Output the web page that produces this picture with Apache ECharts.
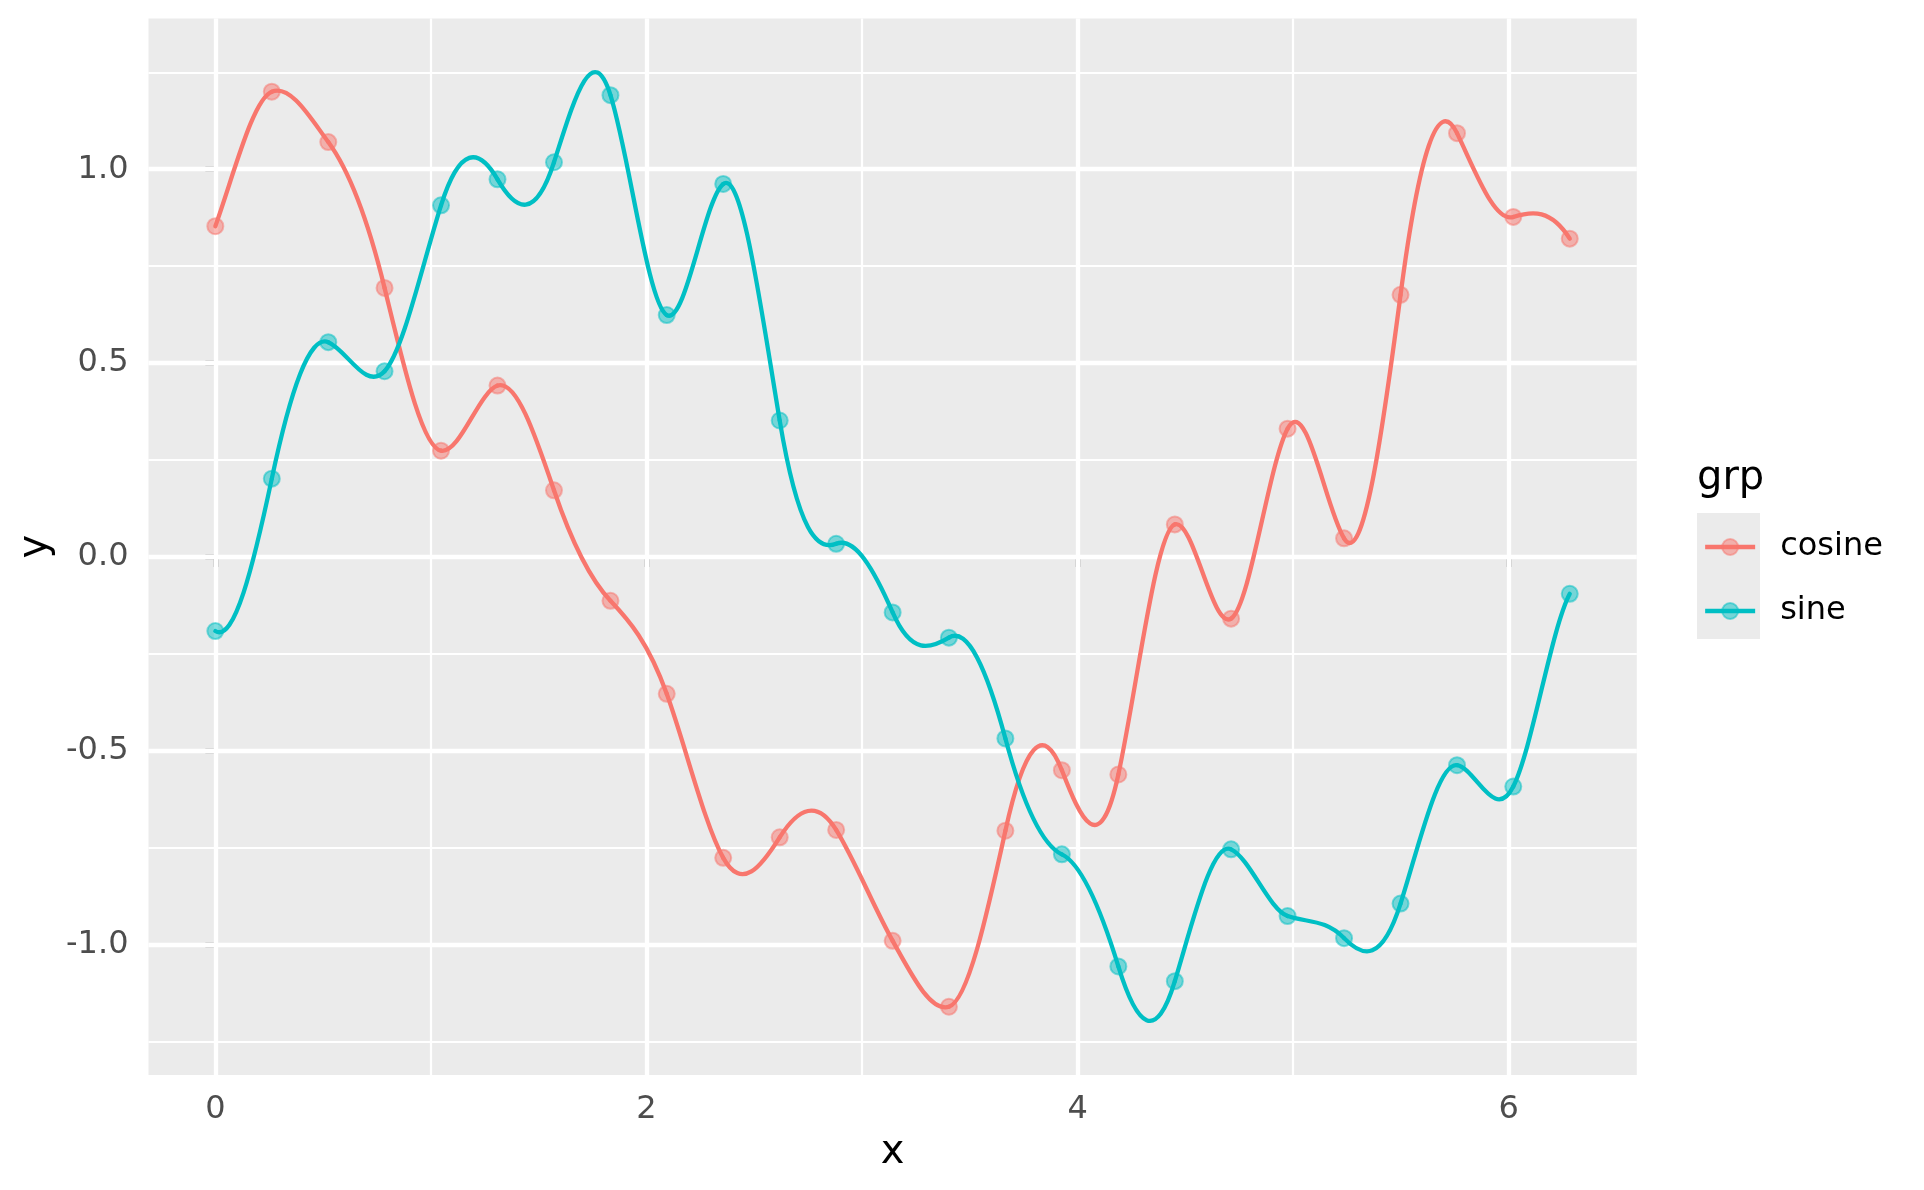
<!DOCTYPE html>
<html>
<head>
<meta charset="utf-8">
<script src="https://cdn.jsdelivr.net/npm/echarts@6/dist/echarts.min.js"></script>
<style>
html, body { margin: 0; padding: 0; background: #ffffff; }
#chart { width: 1924px; height: 1190px; }
</style>
</head>
<body>
<div id="chart"></div>
<script>
// ---- data ----
var xValues = [0, 0.262, 0.524, 0.785, 1.047, 1.309, 1.571, 1.833, 2.094, 2.356, 2.618, 2.880, 3.142,
               3.403, 3.665, 3.927, 4.189, 4.451, 4.712, 4.974, 5.236, 5.498, 5.760, 6.021, 6.283];
var cosineValues = [0.853, 1.200, 1.070, 0.694, 0.274, 0.442, 0.172, -0.113, -0.353, -0.776, -0.723, -0.704, -0.990,
                    -1.160, -0.706, -0.550, -0.561, 0.084, -0.159, 0.331, 0.048, 0.676, 1.093, 0.877, 0.821];
var sineValues = [-0.191, 0.202, 0.554, 0.479, 0.907, 0.974, 1.018, 1.191, 0.624, 0.962, 0.352, 0.034, -0.143,
                  -0.208, -0.468, -0.767, -1.056, -1.094, -0.754, -0.926, -0.983, -0.894, -0.537, -0.592, -0.095];
var groupNames = ['cosine', 'sine'];
var xTicks = [0, 2, 4, 6];
var xMinorBreaks = [1, 3, 5];
var yTicks = [-1, -0.5, 0, 0.5, 1];
var yMinorBreaks = [-1.25, -0.75, -0.25, 0.25, 0.75, 1.25];

// ---- styling ----
var FONT = 'DejaVu Sans';
var COLORS = ['#F8766D', '#00BFC4'];
var LINE_W = 4.3;
var TICK_FONT = 32;
var TITLE_FONT = 40;

function pairs(xs, ys) {
  return xs.map(function (x, i) { return [x, ys[i]]; });
}

// Tangents at the data points of a periodic band-limited (Fourier) curve
// through the points; they only shape the curve drawn between points.
function curveSlopes(xs, ys) {
  var N = ys.length;
  var out = [];
  for (var i = 0; i < N; i++) {
    var s = 0;
    for (var j = 0; j < N; j++) {
      if (j === i) continue;
      var n = i - j;
      var sign = (Math.abs(n) % 2 === 0) ? 1 : -1;
      s += ys[j] * Math.PI * sign / (N * Math.sin(Math.PI * n / N));
    }
    var h = (i < N - 1) ? (xs[i + 1] - xs[i]) : (xs[i] - xs[i - 1]);
    out.push(s / h);
  }
  return out;
}

var gridMarkData = []
  .concat(xTicks.map(function (v) { return { xAxis: v, lineStyle: { width: 4.3 } }; }))
  .concat(xMinorBreaks.map(function (v) { return { xAxis: v, lineStyle: { width: 2.2 } }; }))
  .concat(yTicks.map(function (v) { return { yAxis: v, lineStyle: { width: 4.3 } }; }))
  .concat(yMinorBreaks.map(function (v) { return { yAxis: v, lineStyle: { width: 2.2 } }; }));

var seriesValues = [cosineValues, sineValues];
var series = [];

// legend carriers (line + point icon)
groupNames.forEach(function (name, i) {
  series.push({
    name: name,
    type: 'line',
    data: [],
    symbol: 'circle',
    showSymbol: false,
    lineStyle: { color: COLORS[i], width: LINE_W },
    itemStyle: { color: COLORS[i], borderColor: COLORS[i], borderWidth: 2, opacity: 0.5 },
    silent: true
  });
});

// panel grid lines
series.push({
  name: '_grid',
  type: 'line',
  data: [],
  silent: true,
  markLine: {
    silent: true,
    z: 1,
    symbol: ['none', 'none'],
    label: { show: false },
    emphasis: { disabled: true },
    animation: false,
    lineStyle: { color: '#FFFFFF', type: 'solid', opacity: 1 },
    data: gridMarkData
  }
});

// points
groupNames.forEach(function (name, i) {
  series.push({
    name: name,
    type: 'scatter',
    z: 2,
    data: pairs(xValues, seriesValues[i]),
    symbol: 'circle',
    symbolSize: 16,
    itemStyle: { color: COLORS[i], borderColor: COLORS[i], borderWidth: 2, opacity: 0.5 },
    emphasis: { disabled: true },
    silent: true
  });
});

// smooth curves through the points, drawn via the axes' scales
groupNames.forEach(function (name, i) {
  var ys = seriesValues[i];
  var slopes = curveSlopes(xValues, ys);
  series.push({
    name: name,
    type: 'custom',
    z: 3,
    silent: true,
    data: pairs(xValues, ys),
    encode: { x: 0, y: 1 },
    renderItem: function (params, api) {
      var k = params.dataIndex;
      if (k >= xValues.length - 1) return null;
      var x0 = xValues[k], x1 = xValues[k + 1];
      var h = x1 - x0;
      var p0 = api.coord([x0, ys[k]]);
      var p3 = api.coord([x1, ys[k + 1]]);
      var c1 = api.coord([x0 + h / 3, ys[k] + slopes[k] * h / 3]);
      var c2 = api.coord([x1 - h / 3, ys[k + 1] - slopes[k + 1] * h / 3]);
      return {
        type: 'bezierCurve',
        shape: { x1: p0[0], y1: p0[1], x2: p3[0], y2: p3[1], cpx1: c1[0], cpy1: c1[1], cpx2: c2[0], cpy2: c2[1] },
        style: { stroke: COLORS[i], lineWidth: LINE_W, fill: null, lineCap: 'round', lineJoin: 'round' },
        silent: true
      };
    }
  });
});

var chart = echarts.init(document.getElementById('chart'), null, { renderer: 'canvas' });
chart.setOption({
  animation: false,
  backgroundColor: '#FFFFFF',
  textStyle: { fontFamily: FONT },
  title: {
    text: 'grp',
    left: 1697,
    top: 459,
    padding: 0,
    textStyle: { fontFamily: FONT, fontSize: TITLE_FONT, fontWeight: 'normal', color: '#000000' }
  },
  graphic: [{
    type: 'rect',
    z: 0,
    silent: true,
    shape: { x: 1697, y: 513, width: 63, height: 126 },
    style: { fill: '#EBEBEB' }
  }],
  legend: {
    data: groupNames,
    orient: 'vertical',
    left: 1703,
    top: 531,
    padding: 0,
    itemWidth: 50,
    itemHeight: 20,
    itemGap: 32,
    selectedMode: false,
    lineStyle: { width: LINE_W },
    itemStyle: { opacity: 0.5 },
    textStyle: { fontFamily: FONT, fontSize: TICK_FONT, color: '#000000', padding: [0, 0, 0, 20] }
  },
  grid: {
    left: 148.5,
    right: 287.2,
    top: 18.4,
    bottom: 115,
    containLabel: false,
    outerBoundsMode: 'none',
    show: true,
    backgroundColor: '#EBEBEB',
    borderWidth: 0
  },
  xAxis: {
    type: 'value',
    min: -0.31,
    max: 6.594,
    splitLine: { show: false },
    axisLine: { show: false },
    axisTick: { show: true, customValues: xTicks, length: 10, lineStyle: { color: '#333333', width: 4.3 } },
    axisLabel: {
      customValues: xTicks, margin: 19, fontSize: TICK_FONT, color: '#4D4D4D', fontFamily: FONT,
      formatter: function (v) { return String(v); }
    },
    name: 'x',
    nameLocation: 'middle',
    nameGap: 58,
    nameTextStyle: { fontSize: TITLE_FONT, color: '#000000', fontFamily: FONT }
  },
  yAxis: {
    type: 'value',
    min: -1.336,
    max: 1.389,
    splitLine: { show: false },
    axisLine: { show: false },
    axisTick: { show: true, customValues: yTicks, length: 10, lineStyle: { color: '#333333', width: 4.3 } },
    axisLabel: {
      customValues: yTicks, margin: 20, fontSize: TICK_FONT, color: '#4D4D4D', fontFamily: FONT,
      formatter: function (v) { return v.toFixed(1); }
    },
    name: 'y',
    nameLocation: 'middle',
    nameGap: 76,
    nameTextStyle: { fontSize: TITLE_FONT, color: '#000000', fontFamily: FONT }
  },
  series: series
});
</script>
</body>
</html>
